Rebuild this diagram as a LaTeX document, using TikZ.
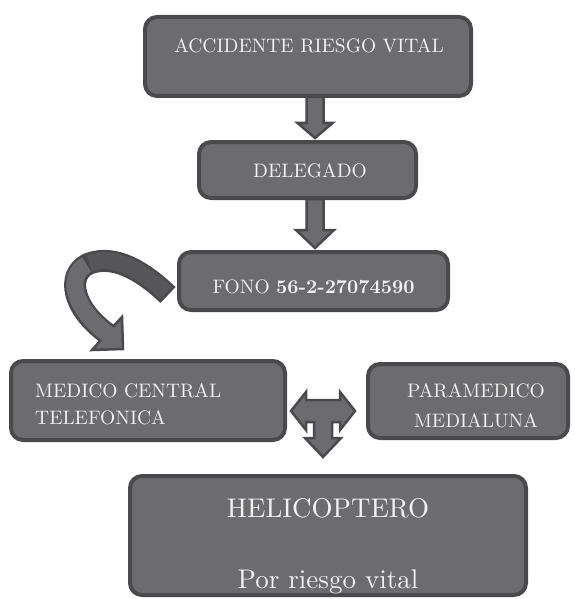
\documentclass[tikz,border=0pt]{standalone}
\usepackage{fontspec}
\setmainfont{lmroman10-regular}[Extension=.otf, BoldFont=lmroman10-bold]
\usetikzlibrary{calc}
\definecolor{boxfill}{RGB}{108,107,112}
\definecolor{boxline}{RGB}{74,74,77}
\definecolor{backfill}{RGB}{86,85,89}
\definecolor{txtcol}{RGB}{242,242,242}
\begin{document}
\begin{tikzpicture}[x=1pt,y=-1pt,
  box/.style={draw=boxline, fill=boxfill, line width=4pt, rounded corners=12pt, inner sep=0pt},
  lbl/.style={text=txtcol, inner sep=0pt, font=\fontsize{19.5}{22}\selectfont},
  biglbl/.style={text=txtcol, inner sep=0pt, font=\fontsize{27}{30}\selectfont},
  barrow/.style={draw=boxline, fill=boxfill, line width=2.5pt, line join=miter}]
\useasboundingbox[fill=white] (0,0) rectangle (574,599);

% ---- curved arrow (drawn under the boxes)
\coordinate (ct) at (168,295);
\coordinate (cf) at (88,264);
\coordinate (ch) at (107,333.5);
\draw[boxline, line width=22pt] (ct) .. controls (145,273) and (115,253) .. (cf)
      .. controls (66,275) and (72,308) .. (ch);
\draw[barrow] (92,350) -- (122,317) -- (123,349) -- cycle;
\draw[backfill, line width=17pt, shorten <=2.5pt, shorten >=1.5pt] (ct) .. controls (145,273) and (115,253) .. (cf);
\draw[boxfill, line width=17pt, shorten <=1.5pt, shorten >=-2.5pt] (cf) .. controls (66,275) and (72,308) .. (ch);

% ---- boxes
\node[box, minimum width=326pt, minimum height=79pt] (acc) at (308,56.5) {};
\node[box, minimum width=217pt, minimum height=56pt] (del) at (307.5,170) {};
\node[box, minimum width=269pt, minimum height=58pt] (fono) at (313.5,281) {};
\node[box, minimum width=274pt, minimum height=79pt] (med) at (148,400.5) {};
\node[box, minimum width=200pt, minimum height=74pt] (para) at (468,401) {};
\node[box, minimum width=396pt, minimum height=119pt] (heli) at (328,535.5) {};

% ---- straight block arrows
\coordinate (a1s) at ($(acc.south)+(7,-1)$);
\coordinate (a1e) at ($(del.north)+(7.5,-2)$);
\draw[barrow] ($(a1s)+(-8.5,0)$) -- ($(a1s)+(8.5,0)$) -- ($(a1e)+(8.5,-15)$) -- ($(a1e)+(17.5,-15)$)
  -- (a1e) -- ($(a1e)+(-17.5,-15)$) -- ($(a1e)+(-8.5,-15)$) -- cycle;
\coordinate (a2s) at ($(del.south)+(7.5,-1)$);
\coordinate (a2e) at ($(fono.north)+(1.5,-2)$);
\draw[barrow] ($(a2s)+(-8.5,0)$) -- ($(a2s)+(8.5,0)$) -- ($(a2e)+(8.5,-18)$) -- ($(a2e)+(19,-18)$)
  -- (a2e) -- ($(a2e)+(-19,-18)$) -- ($(a2e)+(-8.5,-18)$) -- cycle;

% ---- T-shaped three-way arrow
\coordinate (tl) at (291,411);
\coordinate (tr) at (355,411);
\coordinate (td) at (323,457);
\draw[barrow] (tl) -- (306,392) -- (306,400) -- (340,400) -- (340,392) -- (tr) -- (340,430)
  -- (340,422) -- (332,422) -- (332,438) -- (341,438) -- (td) -- (305,438) -- (314,438)
  -- (314,422) -- (306,422) -- (306,430) -- cycle;

% ---- texts
\node[lbl, anchor=base] (t1) at (309,53) {ACCIDENTE RIESGO VITAL};
\node[lbl, anchor=base] (t2) at (310,177) {DELEGADO};
\node[lbl, anchor=base] (t3) at (313.5,293) {FONO \textbf{56-2-27074590}};
\node[lbl, anchor=base west] (t4) at (35,397) {MEDICO CENTRAL};
\node[lbl, anchor=base west] (t5) at (35,424) {TELEFONICA};
\node[lbl, anchor=base] (t6) at (476,397) {PARAMEDICO};
\node[lbl, anchor=base] (t7) at (476,427) {MEDIALUNA};
\node[biglbl, anchor=base] (t8) at (328,517) {HELICOPTERO};
\node[biglbl, anchor=base] (t9) at (328,588) {Por riesgo vital};
\end{tikzpicture}
\end{document}
